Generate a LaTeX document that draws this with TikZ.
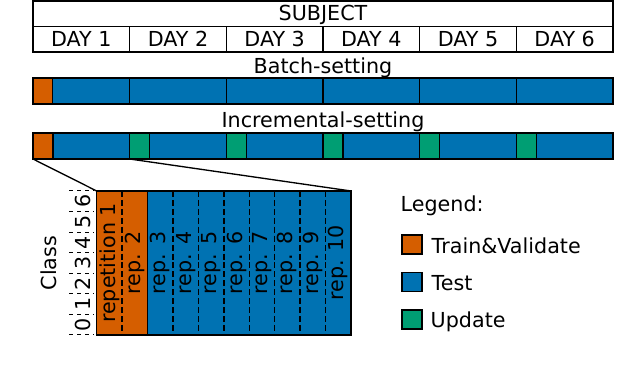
\documentclass[tikz,border=0pt]{standalone}
\usepackage{fontspec}
\setmainfont{DejaVu Sans}
\definecolor{trainc}{HTML}{D55E00}
\definecolor{testc}{HTML}{0072B2}
\definecolor{updc}{HTML}{009E73}

\begin{document}
\begin{tikzpicture}[x=0.75pt,y=-0.75pt,line width=1.1pt,
  font=\fontsize{15.5}{18}\selectfont,
  txt/.style={anchor=base,inner sep=0pt},
  legtxt/.style={anchor=base west,inner sep=0pt},
  rep/.style={rotate=90,inner sep=0pt},
  sep/.style={line width=1pt,dash pattern=on 4.5pt off 2.2pt},
  tick/.style={line width=0.75pt,dash pattern=on 3pt off 3pt}]

\useasboundingbox (0,0) rectangle (640,370);

% --- Subject / days ---
\draw[line width=0.8pt] (33,1) rectangle (613,26.5);
\node[txt] (subject) at (323,21) {SUBJECT};
\foreach \d in {1,...,6} {
  \draw[line width=0.8pt] ({33+(\d-1)*96.667},26.5) rectangle ({33+\d*96.667},52);
  \node[txt] (day\d) at ({33+(\d-0.5)*96.667},47) {DAY \d};
}

% --- Batch-setting ---
\node[txt] (batch) at (323,74) {Batch-setting};
\foreach \d in {1,...,6}
  \filldraw[fill=testc] ({33+(\d-1)*96.667},78) rectangle ({33+\d*96.667},104);
\filldraw[fill=trainc] (33,78) rectangle (52.5,104);

% --- Incremental-setting ---
\node[txt] (incr) at (323,128) {Incremental-setting};
\foreach \d in {1,...,6}
  \filldraw[fill=testc] ({33+(\d-1)*96.667},133) rectangle ({33+\d*96.667},159);
\filldraw[fill=trainc] (33,133) rectangle (53,159);
\foreach \d in {2,...,6}
  \filldraw[fill=updc] ({33+(\d-1)*96.667},133) rectangle ({53+(\d-1)*96.667},159);

% zoom lines
\coordinate (trainBL) at (33,159);
\coordinate (updBL) at (129.667,159);
\coordinate (boxTL) at (96.7,191);
\coordinate (boxTR) at (351,191);
\draw[line width=1pt] (trainBL) -- (boxTL);
\draw[line width=1pt] (updBL) -- (boxTR);

% --- Zoomed day: repetitions ---
\fill[trainc] (96.7,191) rectangle (147.56,335);
\fill[testc] (147.56,191) rectangle (351,335);
\foreach \c in {1,...,9}
  \draw[sep] ({96.7+\c*25.43},191) -- ({96.7+\c*25.43},335);
\draw (147.56,191) -- (147.56,335);
\draw (96.7,191) rectangle (351,335);

\node[rep] (rep1) at (109.4,263) {repetition 1};
\foreach \c in {2,...,10}
  \node[rep] (rep\c) at ({96.7+(\c-0.5)*25.43},263) {rep. \c};

% class axis
\node[rep] (class) at (49,263) {Class};
\foreach \k in {0,...,6}
  \node[rep] (cls\k) at (83,{335-(\k+0.5)*20.571}) {\k};
\foreach \k in {0,...,7}
  \draw[tick] (69,{191+\k*20.571}) -- (94,{191+\k*20.571});

% --- Legend ---
\node[legtxt] (legend) at (400,212) {Legend:};
\filldraw[fill=trainc] (402,235) rectangle (422,254);
\node[legtxt] (ltrain) at (431,253.5) {Train\&Validate};
\filldraw[fill=testc] (402,272.5) rectangle (422,291.5);
\node[legtxt] (ltest) at (431,291) {Test};
\filldraw[fill=updc] (402,310) rectangle (422,329);
\node[legtxt] (lupd) at (430,327.5) {Update};

\end{tikzpicture}
\end{document}
